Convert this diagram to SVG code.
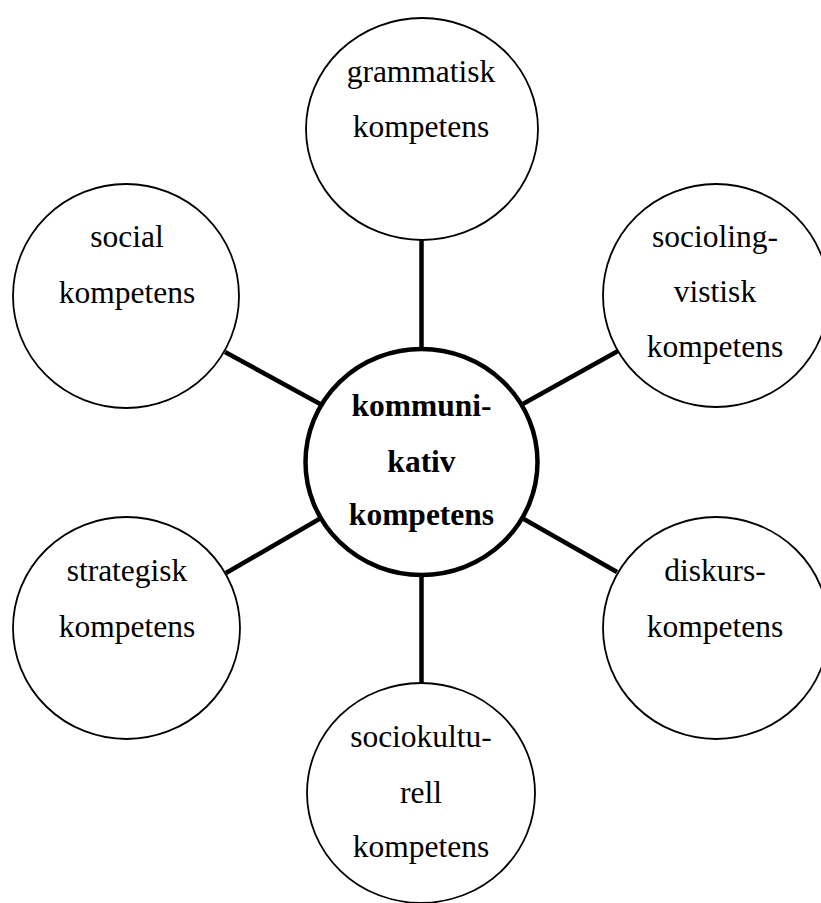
<svg xmlns="http://www.w3.org/2000/svg" width="821" height="903" viewBox="0 0 821 903">
<style>
.n{fill:#fff;stroke:#000;stroke-width:1.8}
.c{fill:#fff;stroke:#000;stroke-width:4.5}
.l{stroke:#000;stroke-width:4.5;fill:none}
text{font-family:"Liberation Serif","Times New Roman",serif;font-size:31.5px;fill:#000;text-anchor:middle}
.b{font-weight:bold}
</style>
<rect width="821" height="903" fill="#fff"/>
<g id="connectors">
<line class="l" x1="421.5" y1="240" x2="421.5" y2="350"/>
<line class="l" x1="421.5" y1="575" x2="421.5" y2="683"/>
<line class="l" x1="225" y1="352" x2="322" y2="405"/>
<line class="l" x1="226" y1="573" x2="321" y2="518"/>
<line class="l" x1="618" y1="351" x2="521" y2="405"/>
<line class="l" x1="617" y1="572" x2="522" y2="518"/>
</g>
<g id="grammatisk">
<ellipse class="n" cx="422" cy="129" rx="116" ry="111"/>
<text x="421" y="82">grammatisk</text>
<text x="421" y="137">kompetens</text>
</g>
<g id="social">
<ellipse class="n" cx="126" cy="296" rx="113" ry="112"/>
<text x="127" y="247">social</text>
<text x="127" y="303">kompetens</text>
</g>
<g id="sociolingvistisk">
<ellipse class="n" cx="716" cy="295.5" rx="113" ry="111.5"/>
<text x="715" y="247">socioling-</text>
<text x="715" y="302">vistisk</text>
<text x="715" y="357">kompetens</text>
</g>
<g id="strategisk">
<ellipse class="n" cx="126.5" cy="628" rx="113.5" ry="111"/>
<text x="127" y="581">strategisk</text>
<text x="127" y="637">kompetens</text>
</g>
<g id="diskurs">
<ellipse class="n" cx="716" cy="628" rx="113" ry="111"/>
<text x="715" y="581">diskurs-</text>
<text x="715" y="637">kompetens</text>
</g>
<g id="sociokulturell">
<ellipse class="n" cx="421" cy="793" rx="114" ry="110"/>
<text x="421" y="747">sociokultu-</text>
<text x="421" y="803">rell</text>
<text x="421" y="857">kompetens</text>
</g>
<g id="kommunikativ">
<ellipse class="c" cx="421.5" cy="462" rx="116" ry="113"/>
<text class="b" x="421.5" y="416">kommuni-</text>
<text class="b" x="421.5" y="472">kativ</text>
<text class="b" x="421.5" y="525">kompetens</text>
</g>
</svg>
